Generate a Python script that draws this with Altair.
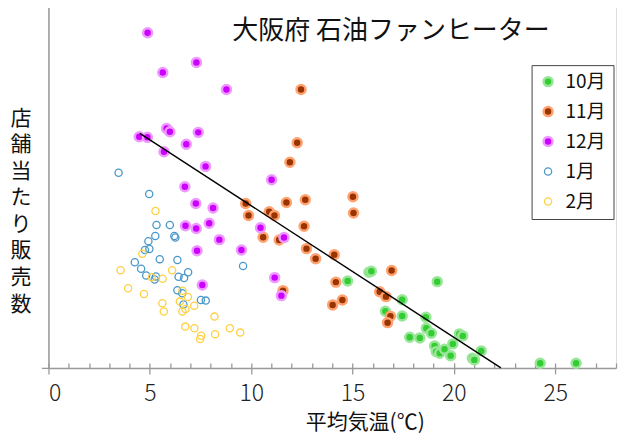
import altair as alt
import pandas as pd

FONT = "Noto Sans CJK JP"
TITLE = "大阪府 石油ファンヒーター"
months = ["10月", "11月", "12月", "1月", "2月"]

oct_x = [15.81, 15.93, 14.76, 19.18, 17.45, 16.62, 17.45, 18.62, 18.64, 18.89, 17.82, 18.32, 20.27,
         20.44, 19.95, 19.05, 19.13, 19.30, 19.54, 19.84, 20.91, 21.01, 21.35, 24.26, 26.03]
oct_y = [10.40, 10.51, 9.46, 9.38, 7.42, 6.16, 5.65, 5.51, 4.32, 3.77, 3.34, 3.26, 3.70,
         3.48, 2.61, 2.39, 1.77, 1.60, 2.03, 1.33, 1.05, 0.87, 1.85, 0.51, 0.51]

nov_x = [12.46, 12.27, 11.91, 9.73, 9.87, 11.74, 12.67, 15.02, 15.05, 10.89, 11.15, 12.61, 10.59,
         11.38, 12.73, 13.18, 14.10, 16.93, 14.18, 11.57, 14.50, 14.02, 16.34, 16.65, 16.87, 16.73]
nov_y = [30.29, 24.49, 22.37, 17.88, 16.58, 17.99, 18.29, 18.62, 16.85, 16.99, 16.58, 15.40, 14.21,
         13.91, 12.97, 11.88, 12.30, 10.60, 9.33, 8.40, 7.39, 6.85, 8.29, 7.75, 5.62, 4.92]

dec_x = [4.89, 7.30, 5.64, 8.78, 5.83, 5.99, 7.39, 4.48, 4.88, 6.80, 5.70, 7.75, 11.01, 6.73,
         7.27, 8.12, 6.76, 7.29, 7.93, 8.43, 7.33, 9.52, 7.59, 10.46, 11.62, 11.16, 11.49]
dec_y = [36.45, 33.23, 32.14, 30.29, 26.05, 25.68, 25.62, 25.14, 25.08, 24.32, 23.51, 21.92, 20.47, 19.71,
         17.88, 17.39, 15.46, 15.16, 15.73, 13.95, 12.75, 12.83, 9.02, 15.24, 14.18, 9.82, 7.86]

jan_x = [3.46, 4.97, 5.33, 5.99, 5.27, 6.21, 6.26, 4.93, 4.76, 4.98, 5.49, 6.36, 4.26, 4.57, 9.60,
         6.89, 4.82, 5.30, 5.24, 6.42, 6.69, 6.36, 6.60, 6.66, 7.52, 7.76]
jan_y = [21.23, 18.91, 15.54, 15.54, 14.35, 14.35, 14.18, 13.77, 12.83, 12.93, 11.83, 11.74, 11.49, 10.78, 11.09,
         10.40, 10.05, 9.95, 9.62, 9.92, 9.78, 8.45, 8.12, 6.90, 7.39, 7.32]

feb_x = [5.28, 4.63, 3.56, 6.10, 5.10, 5.63, 3.93, 4.71, 6.61, 6.88, 5.62, 6.48, 7.19, 5.69, 6.61,
         6.76, 8.19, 6.75, 7.20, 8.95, 9.46, 8.22, 7.53, 7.48]
feb_y = [17.07, 12.42, 10.62, 10.62, 9.86, 9.70, 8.66, 8.04, 8.39, 7.72, 7.03, 7.21, 6.77, 6.14, 6.14,
         6.41, 5.58, 4.49, 4.32, 4.32, 3.84, 3.67, 3.50, 3.15]

trend_x = [4.51, 22.32]
trend_y = [25.51, 0.0]

fill_colors = ["#33cc33", "#993300", "#cc00ff", "transparent", "transparent"]
stroke_colors = ["#99e699", "#ffa270", "#ee99ff", "#4a98c9", "#ffd040"]
sizes = [80, 80, 80, 52, 52]
stroke_widths = [2.5, 2.5, 2.5, 1.3, 1.3]

rows = []
for m, xs, ys in zip(months, [oct_x, nov_x, dec_x, jan_x, feb_x], [oct_y, nov_y, dec_y, jan_y, feb_y]):
    for a, b in zip(xs, ys):
        rows.append({"month": m, "temp": a, "sales": b})
df = pd.DataFrame(rows)
trend = pd.DataFrame({"temp": trend_x, "sales": trend_y})

W, H = 568, 368
xscale = alt.Scale(domain=[0, 28], nice=False, zero=False)
yscale = alt.Scale(domain=[0, 40], nice=False, zero=True)

legend = alt.Legend(
    title=None, orient="none", legendX=483.5, legendY=65,
    labelFont=FONT, labelFontSize=19, labelColor="#111", labelOffset=8,
    padding=7, rowPadding=10, strokeColor="#444", fillColor="white",
    symbolType="circle",
)

points = alt.Chart(df).mark_point(shape="circle", opacity=1, filled=False).encode(
    x=alt.X("temp:Q", scale=xscale, axis=alt.Axis(
        values=[0, 5, 10, 15, 20, 25], tickSize=6, labelPadding=9, labelFont=FONT,
        labelFontSize=23, labelColor="#222", labelFontWeight=300, grid=False,
        domainColor="#9a9a9a", domainWidth=1.5, tickColor="#9a9a9a", tickWidth=1.3,
        title="平均気温(℃)", titleFont=FONT, titleFontSize=21, titleFontWeight="normal",
        titleColor="#111", titleX=316.5, titleY=55, titleAlign="center", titleBaseline="middle",
        orient="bottom")),
    y=alt.Y("sales:Q", scale=yscale, axis=alt.Axis(
        values=[0, 40], labels=False, tickSize=7, grid=False, orient="left",
        domainColor="#9a9a9a", domainWidth=1.5, tickColor="#9a9a9a", tickWidth=1.3,
        title=list("店舗当たり販売数"), titleAngle=0, titleX=-28, titleY=118,
        titleAlign="center", titleBaseline="middle", titleFont=FONT, titleFontSize=21,
        titleFontWeight="normal", titleColor="#111", titleLineHeight=26.6)),
    fill=alt.Fill("month:N", scale=alt.Scale(domain=months, range=fill_colors), legend=legend),
    stroke=alt.Stroke("month:N", scale=alt.Scale(domain=months, range=stroke_colors), legend=legend),
    size=alt.Size("month:N", scale=alt.Scale(type="ordinal", domain=months, range=sizes), legend=legend),
    strokeWidth=alt.StrokeWidth("month:N", scale=alt.Scale(type="ordinal", domain=months, range=stroke_widths), legend=legend),
)

# regression line; its x axis carries the minor ticks, its (right) y axis carries the chart title
line = alt.Chart(trend).mark_line(color="black", strokeWidth=1.4).encode(
    x=alt.X("temp:Q", scale=xscale, axis=alt.Axis(
        values=list(range(0, 29)), orient="bottom", offset=-5, tickSize=5, labels=False,
        domain=False, grid=False, title=None, tickColor="#9a9a9a", tickWidth=1.3)),
    y=alt.Y("sales:Q", scale=yscale, axis=alt.Axis(
        orient="right", domain=False, ticks=False, labels=False, grid=False,
        title=TITLE, titleAngle=0, titleX=183.5 - W, titleY=30, titleAlign="left",
        titleBaseline="middle", titleFont=FONT, titleFontSize=26, titleFontWeight="normal",
        titleColor="#111")),
)

chart = alt.layer(points, line).resolve_axis(x="independent", y="independent").properties(
    width=W, height=H,
    autosize=alt.AutoSizeParams(type="none"),
    padding={"left": 40.5, "top": -8, "right": 16, "bottom": 70},
).configure_view(stroke="transparent").configure(background="white")

chart.save("out.html", embed_options={"renderer": "svg", "actions": False})
